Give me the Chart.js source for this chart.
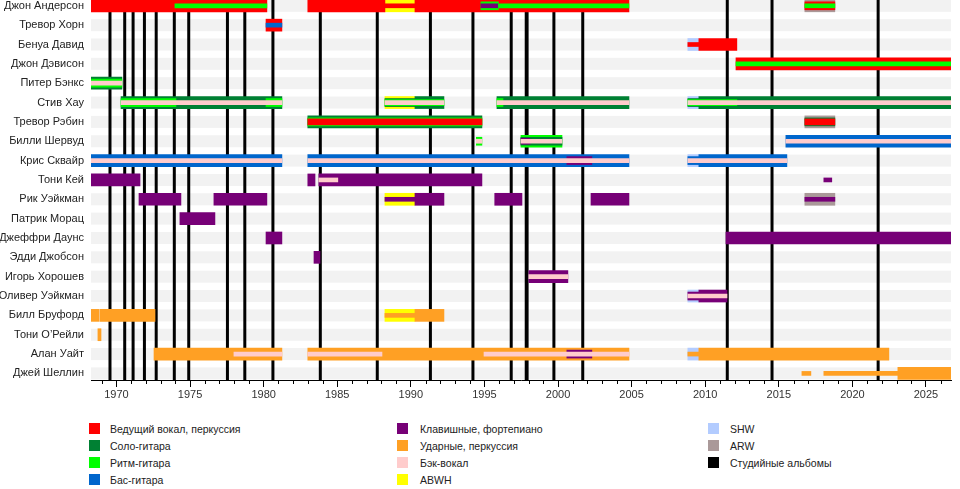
<!DOCTYPE html>
<html>
<head>
<meta charset="utf-8">
<script src="https://cdn.jsdelivr.net/npm/chart.js@4.4.1/dist/chart.umd.min.js"></script>
<style>
  body { margin: 0; background: #fff; font-family: 'Liberation Sans', Arial, sans-serif; }
  #wrap { position: relative; width: 960px; height: 489px; overflow: hidden; }
  #chart { display: block; }
  .item { position: absolute; font-size: 10.5px; color: #222; white-space: nowrap; line-height: 12px; }
  .sw { position: absolute; width: 11px; height: 11px; }
</style>
</head>
<body>
<div id="wrap">
  <canvas id="chart" width="960" height="405"></canvas>
  <div id="legend"></div>
</div>
<script>
const members = [
    'Джон Андерсон', 'Тревор Хорн', 'Бенуа Давид', 'Джон Дэвисон', 'Питер Бэнкс',
    'Стив Хау', 'Тревор Рэбин', 'Билли Шервуд', 'Крис Сквайр', 'Тони Кей',
    'Рик Уэйкман', 'Патрик Морац', 'Джеффри Даунс', 'Эдди Джобсон', 'Игорь Хорошев',
    'Оливер Уэйкман', 'Билл Бруфорд', 'Тони О’Рейли', 'Алан Уайт', 'Джей Шеллин'
];

const timeStart = 1968.27;
const timeEnd = 2026.7;

// release dates of studio albums (decimal years)
const studioAlbums = [
    1969.56, 1970.56, 1971.13, 1971.90, 1972.70, 1973.93, 1974.91, 1977.54,
    1978.72, 1980.63, 1983.85, 1987.72, 1991.33, 1994.22, 1996.82, 1997.84,
    1997.90, 1999.72, 2001.68, 2011.50, 2014.54, 2021.75
];

const roles = [
    'Ведущий вокал, перкуссия', 'Соло-гитара', 'Ритм-гитара', 'Бас-гитара',
    'Клавишные, фортепиано', 'Ударные, перкуссия', 'Бэк-вокал', 'ABWH',
    'SHW', 'ARW'
];
const albumsLabel = 'Студийные альбомы';

// [member, from, to, tier]  tier 0 = main role, 1..3 = secondary roles
const leadVocals = [
    [0, 1968.27, 1980.22, 0], [0, 1983.0, 1988.24, 0], [0, 1990.28, 2004.82, 0],
    [0, 1988.24, 1990.28, 3], [0, 2016.77, 2018.81, 1],
    [1, 1980.16, 1981.24, 0],
    [2, 2008.82, 2009.57, 3], [2, 2009.57, 2012.15, 0],
    [3, 2012.09, 2026.7, 0],
    [6, 1983.0, 1994.83, 2], [6, 2016.77, 2018.81, 2]
];
const leadGuitar = [
    [4, 1968.27, 1970.37, 0],
    [5, 1970.31, 1981.24, 0], [5, 1988.24, 1990.28, 1], [5, 1990.28, 1992.25, 0],
    [5, 1995.85, 2004.82, 0], [5, 2008.82, 2009.57, 1], [5, 2009.57, 2026.7, 0],
    [6, 1983.0, 1994.83, 0], [6, 2016.77, 2018.81, 1],
    [7, 1997.48, 2000.27, 1]
];
const rhythmGuitar = [
    [0, 1973.97, 1980.22, 3], [0, 1994.76, 1995.95, 1], [0, 1995.95, 2004.82, 3],
    [0, 2016.77, 2018.81, 3],
    [3, 2012.09, 2026.7, 3],
    [4, 1968.27, 1970.37, 1],
    [5, 1970.31, 1974.04, 1], [5, 1980.16, 1981.24, 1], [5, 1988.24, 1992.25, 2],
    [5, 1995.85, 1996.26, 1], [5, 2008.82, 2012.15, 2],
    [6, 1983.0, 1994.83, 1],
    [7, 1994.45, 1994.83, 1], [7, 1997.48, 2000.27, 0]
];
const bassGuitar = [
    [1, 1980.16, 1981.24, 3],
    [7, 2015.48, 2026.7, 0],
    [8, 1968.27, 1981.24, 0], [8, 1983.0, 2004.82, 0], [8, 2008.82, 2009.57, 1],
    [8, 2009.57, 2015.55, 0]
];
const keyboards = [
    [0, 1994.76, 1995.95, 3],
    [7, 1997.48, 1998.1, 2],
    [8, 2000.6, 2002.3, 1],
    [9, 1968.27, 1971.6, 0], [9, 1983.0, 1983.49, 0], [9, 1983.75, 1994.83, 0],
    [9, 2018.06, 2018.6, 3],
    [10, 1971.53, 1974.38, 0], [10, 1976.62, 1980.22, 0], [10, 1988.24, 1990.28, 3],
    [10, 1990.28, 1992.25, 0], [10, 1995.7, 1997.55, 0], [10, 2002.24, 2004.82, 0],
    [10, 2016.77, 2018.81, 3],
    [11, 1974.31, 1976.69, 0],
    [12, 1980.16, 1981.24, 0], [12, 2011.41, 2026.7, 0],
    [13, 1983.42, 1983.83, 0],
    [14, 1998.02, 2000.67, 0],
    [15, 2008.82, 2009.57, 1], [15, 2009.57, 2011.48, 0],
    [18, 2000.6, 2002.3, 1]
];
const drums = [
    [16, 1968.27, 1968.8, 0], [16, 1968.87, 1972.62, 0], [16, 1988.24, 1990.28, 3],
    [16, 1990.28, 1992.25, 0],
    [17, 1968.74, 1968.95, 0],
    [18, 1972.55, 1981.24, 0], [18, 1983.0, 2004.82, 0], [18, 2008.82, 2009.57, 3],
    [18, 2009.57, 2022.48, 0],
    [19, 2016.57, 2017.18, 3], [19, 2018.06, 2023.09, 3], [19, 2023.09, 2026.7, 0]
];
const backingVocals = [
    [4, 1968.27, 1970.37, 3],
    [5, 1970.31, 1981.24, 3], [5, 1988.24, 1992.25, 3], [5, 1995.85, 2004.82, 3],
    [5, 2008.82, 2026.7, 3],
    [7, 1994.45, 1994.83, 3], [7, 1997.48, 2000.27, 3], [7, 2015.48, 2026.7, 3],
    [8, 1968.27, 1981.24, 3], [8, 1983.0, 2004.82, 3], [8, 2008.82, 2015.55, 3],
    [9, 1983.75, 1985.04, 3],
    [14, 1998.02, 2000.67, 3],
    [15, 2008.82, 2011.48, 3],
    [18, 1977.98, 1981.24, 3], [18, 1983.0, 1988.04, 3], [18, 1994.97, 2004.82, 3]
];
const abwh = [
    [0, 1988.24, 1990.28, 0], [5, 1988.24, 1990.28, 0],
    [10, 1988.24, 1990.28, 0], [16, 1988.24, 1990.28, 0]
];
const shw = [
    [2, 2008.82, 2009.57, 0], [5, 2008.82, 2009.57, 0], [8, 2008.82, 2009.57, 0],
    [15, 2008.82, 2009.57, 0], [18, 2008.82, 2009.57, 0]
];
const arw = [
    [0, 2016.77, 2018.81, 0], [6, 2016.77, 2018.81, 0], [10, 2016.77, 2018.81, 0]
];

const roleSpans = [leadVocals, leadGuitar, rhythmGuitar, bassGuitar, keyboards,
    drums, backingVocals, abwh, shw, arw];

// styles
const roleColors = ['#ff0000', '#008033', '#00ff00', '#0066cc', '#770077',
    '#ffa024', '#ffcccc', '#ffff00', '#b3ccff', '#aa9999'];
const albumColor = '#000000';
const tierThickness = [12, 8, 6, 4];
const bandColor = '#f2f2f2';

Chart.defaults.font.family = "'Liberation Sans', Arial, sans-serif";

const datasets = [];
roleSpans.forEach(function(spans, r) {
    tierThickness.forEach(function(thick, t) {
        const part = spans.filter(s => s[3] === t);
        if (!part.length) return;
        datasets.push({
            label: roles[r],
            data: part.map(s => ({ x: [s[1], s[2]], y: s[0] })),
            backgroundColor: roleColors[r],
            barThickness: thick,
            grouped: false,
            borderWidth: 0,
            borderSkipped: false,
            order: thick
        });
    });
});

const backdrop = {
    id: 'backdrop',
    beforeDatasetsDraw(chart) {
        const { ctx, chartArea, scales } = chart;
        ctx.save();
        ctx.fillStyle = bandColor;
        members.forEach(function(m, i) {
            const y = scales.y.getPixelForValue(i);
            ctx.fillRect(chartArea.left, y - 6, chartArea.right - chartArea.left, 12);
        });
        ctx.strokeStyle = albumColor;
        ctx.lineWidth = 3;
        studioAlbums.forEach(function(d) {
            const x = scales.x.getPixelForValue(d);
            ctx.beginPath();
            ctx.moveTo(x, chartArea.top);
            ctx.lineTo(x, chartArea.bottom);
            ctx.stroke();
        });
        ctx.restore();
    },
    afterDraw(chart) {
        const { ctx, chartArea, scales } = chart;
        ctx.save();
        ctx.strokeStyle = '#000';
        ctx.lineWidth = 1;
        scales.x.ticks.forEach(function(t) {
            if (t.value % 5 === 0) return;
            const x = Math.round(scales.x.getPixelForValue(t.value)) + 0.5;
            ctx.beginPath();
            ctx.moveTo(x, chartArea.bottom);
            ctx.lineTo(x, chartArea.bottom + 4);
            ctx.stroke();
        });
        ctx.restore();
    }
};

new Chart(document.getElementById('chart').getContext('2d'), {
    type: 'bar',
    data: { datasets: datasets },
    options: {
        indexAxis: 'y',
        responsive: false,
        animation: false,
        layout: { padding: { top: 0, right: 9, bottom: 0, left: 0 } },
        plugins: {
            legend: { display: false },
            tooltip: { enabled: false }
        },
        scales: {
            x: {
                type: 'linear',
                min: timeStart,
                max: timeEnd,
                offset: false,
                grid: {
                    drawOnChartArea: false,
                    tickLength: 7,
                    tickColor: ctx => (ctx.tick && ctx.tick.value % 5 === 0) ? '#000' : 'rgba(0,0,0,0)'
                },
                border: { display: true, color: '#000', width: 1 },
                ticks: {
                    stepSize: 1,
                    includeBounds: false,
                    autoSkip: false,
                    maxRotation: 0,
                    padding: 1,
                    color: '#333',
                    font: { size: 11 },
                    callback: v => v % 5 === 0 ? String(v) : ''
                },
                afterFit: s => { s.height = 25; s.paddingLeft = 0; s.paddingRight = 0; }
            },
            y: {
                type: 'linear',
                reverse: true,
                offset: false,
                min: -0.3,
                max: 19.34,
                grid: { display: false, drawTicks: false, offset: false },
                border: { display: false },
                afterBuildTicks: s => { s.ticks = members.map((m, i) => ({ value: i })); },
                ticks: {
                    autoSkip: false,
                    padding: 7,
                    color: '#222',
                    font: { size: 11 },
                    callback: v => members[v]
                },
                afterFit: s => { s.width = 91; s.paddingTop = 0; s.paddingBottom = 0; }
            }
        }
    },
    plugins: [backdrop]
});

// legend, three columns of four
const legendEl = document.getElementById('legend');
const legendLabels = roles.concat([albumsLabel]);
const legendColors = roleColors.concat([albumColor]);
const colSwatchX = [89, 397, 708];
const colTextX = [110, 420, 730];
legendLabels.forEach(function(label, i) {
    const col = Math.floor(i / 4), row = i % 4;
    const top = 423 + row * 17;
    const sw = document.createElement('div');
    sw.className = 'sw';
    sw.style.left = colSwatchX[col] + 'px';
    sw.style.top = top + 'px';
    sw.style.background = legendColors[i];
    legendEl.appendChild(sw);
    const tx = document.createElement('div');
    tx.className = 'item';
    tx.style.left = colTextX[col] + 'px';
    tx.style.top = top + 'px';
    tx.textContent = label;
    legendEl.appendChild(tx);
});
</script>
</body>
</html>
